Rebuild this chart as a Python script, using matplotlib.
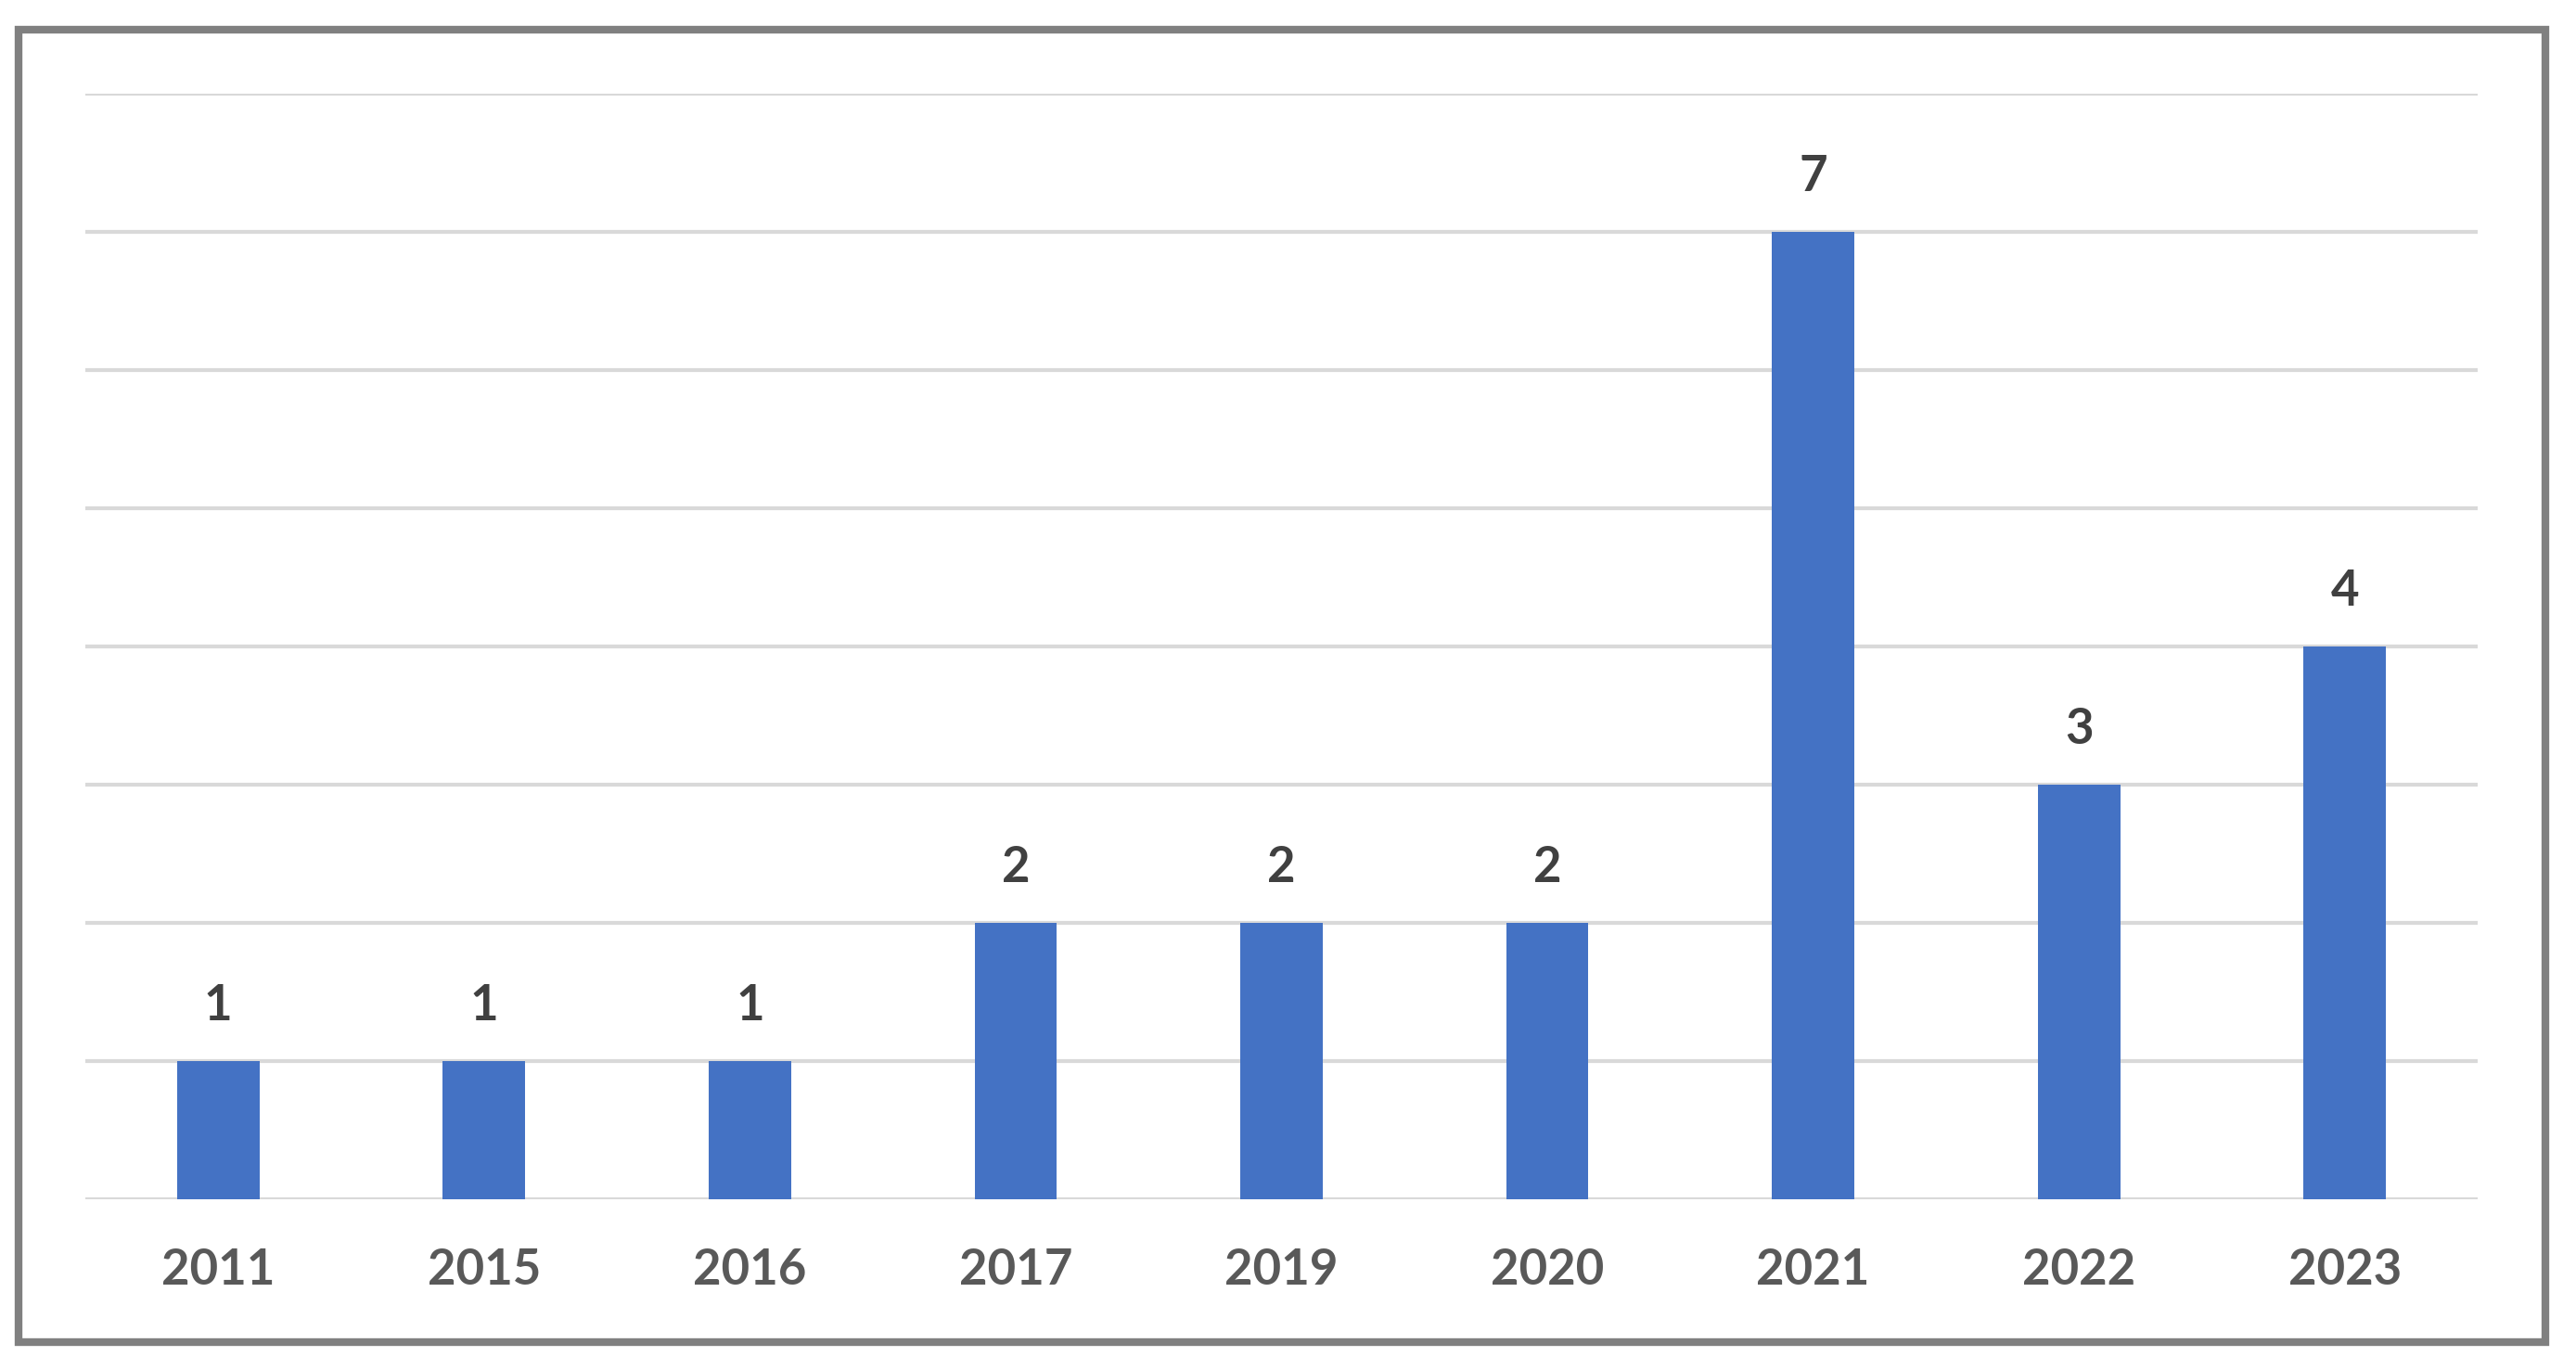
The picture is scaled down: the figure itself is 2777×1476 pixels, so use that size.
import matplotlib.pyplot as plt
from matplotlib.patches import Rectangle

# publications per year
years = ["2011", "2015", "2016", "2017", "2019", "2020", "2021", "2022", "2023"]
counts = [1, 1, 1, 2, 2, 2, 7, 3, 4]

W, H = 2777, 1476
fig = plt.figure(figsize=(W / 100, H / 100), dpi=100)
fig.patch.set_facecolor("white")

ax = fig.add_axes([92 / W, 1 - 1293 / H, (2671 - 92) / W, (1293 - 101) / H])
x = list(range(len(years)))
bars = ax.bar(x, counts, width=0.31, color="#4472C4", zorder=3)

ax.set_xlim(-0.5, len(years) - 0.5)
ax.set_ylim(0, 8)
ax.set_yticks(range(0, 9))
ax.yaxis.grid(True, color="#d9d9d9", linewidth=3, zorder=0)
ax.tick_params(axis="y", left=False, labelleft=False)
ax.tick_params(axis="x", bottom=False, pad=34)
ax.set_xticks(x)
ax.set_xticklabels(years, fontsize=38, fontweight="bold", color="#595959", family=["Lato", "DejaVu Sans"])
for s in ax.spines.values():
    s.set_visible(False)

for b, v in zip(bars, counts):
    ax.annotate(str(v), (b.get_x() + b.get_width() / 2, v), xytext=(0, 25), textcoords="offset points",
                ha="center", va="bottom", fontsize=38, fontweight="bold", color="#404040",
                family=["Lato", "DejaVu Sans"])

# outer frame
fig.patches.append(Rectangle((20 / W, 1 - 1447 / H), (2744 - 20) / W, (1447 - 32) / H,
                             transform=fig.transFigure, fill=False, edgecolor="#808080", linewidth=6))

fig.savefig("out.png", dpi=100)
